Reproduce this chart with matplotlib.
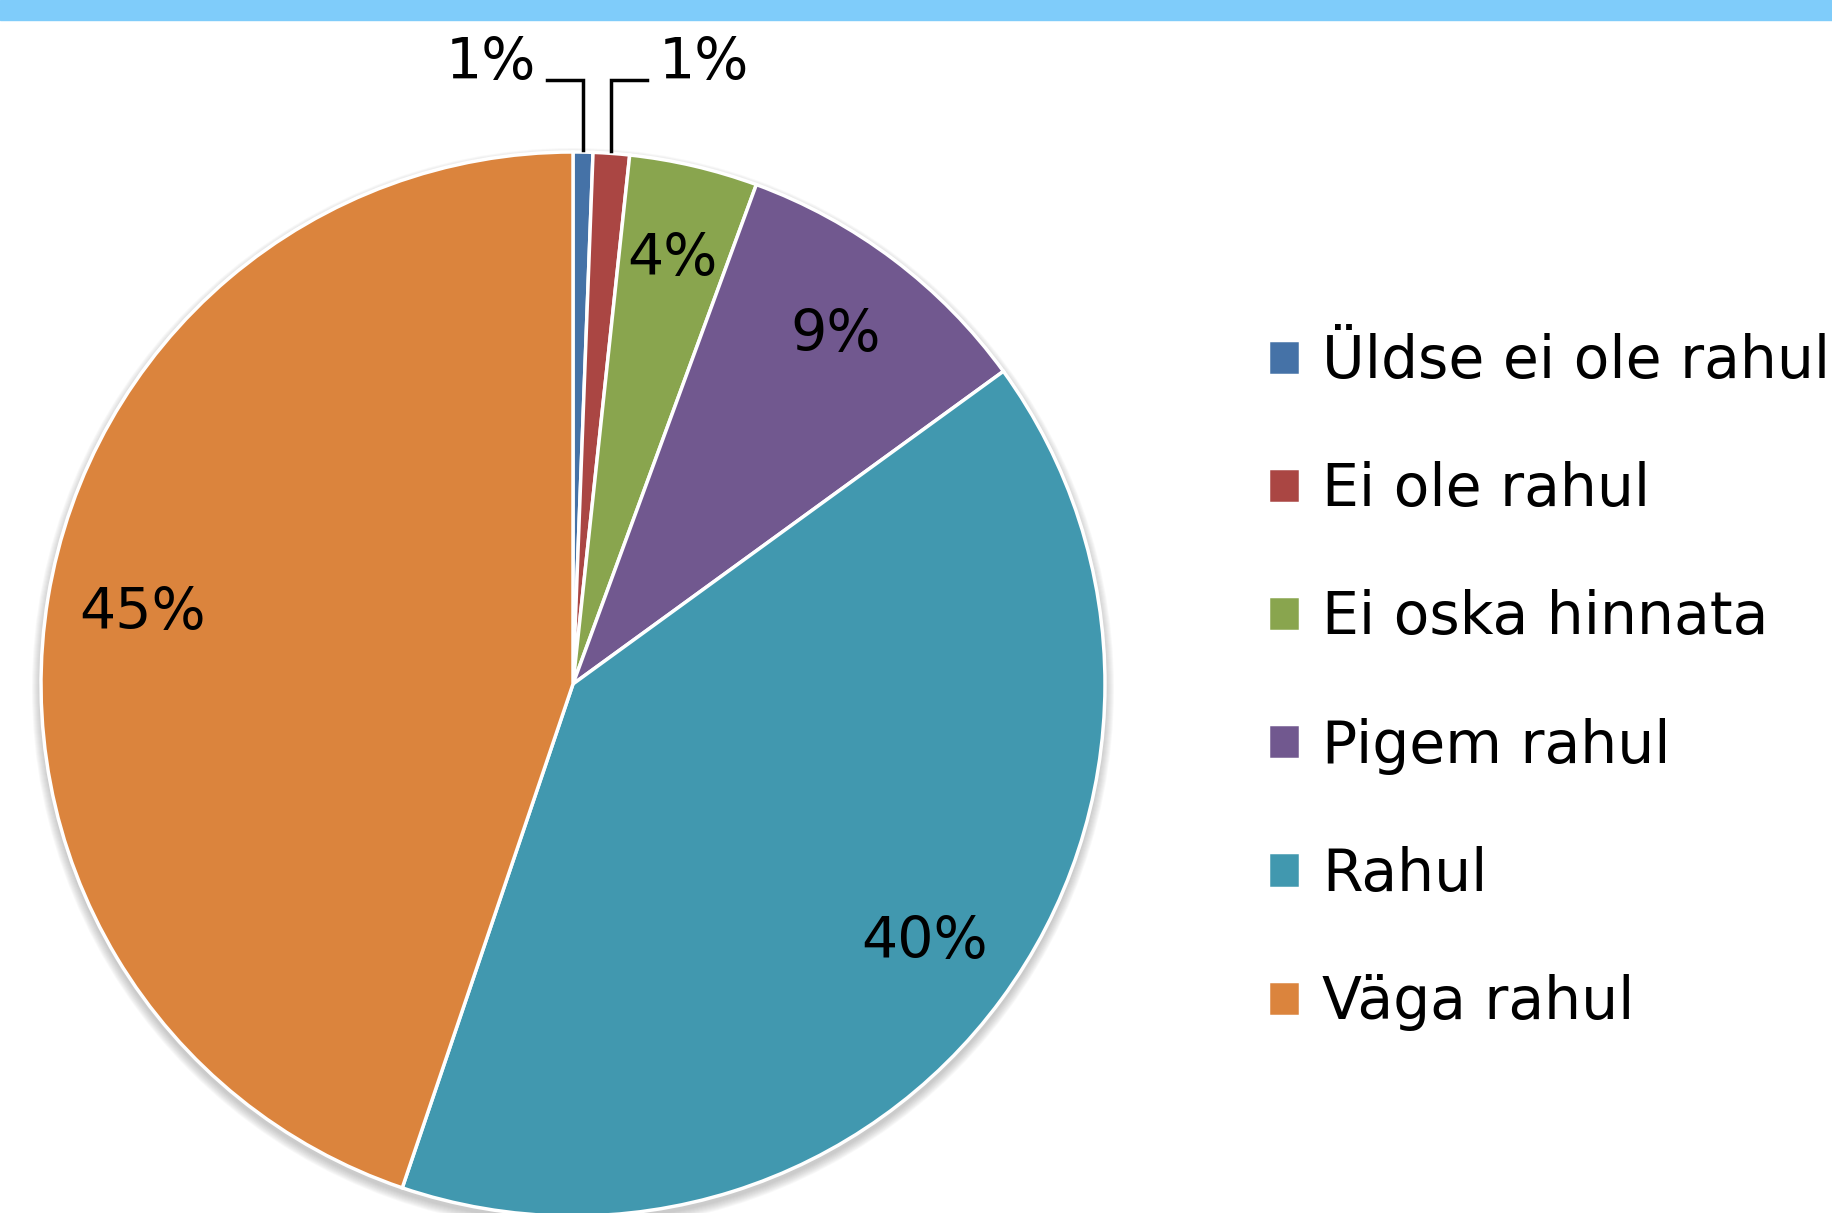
import matplotlib.pyplot as plt
from matplotlib import patches
import numpy as np

# Survey answers (share of respondents, %)
labels = ["Üldse ei ole rahul", "Ei ole rahul", "Ei oska hinnata",
          "Pigem rahul", "Rahul", "Väga rahul"]
values = [0.6, 1.1, 3.9, 9.4, 40.2, 44.8]
colors = ["#4572A7", "#AA4643", "#89A54E", "#71588F", "#4198AF", "#DB843D"]

# Layout in pixel units (figure is 1833 x 1213 px)
W, H = 1833, 1213
cx, cy = 573, H - 684
radius = 532
fs = 41        # percentage labels
fs_leg = 42    # legend

fig = plt.figure(figsize=(W / 100, H / 100), dpi=100)
ax = fig.add_axes([0, 0, 1, 1])

# soft shadow under the pie
for k in range(1, 10):
    ax.add_patch(patches.Circle((cx, cy - 5), radius + k, color="gray",
                                alpha=0.05, zorder=0, lw=0))


def pct_label(p):
    return "" if p < 2 else "%d%%" % round(p)


wedges, texts, autotexts = ax.pie(
    values, colors=colors, startangle=90, counterclock=False,
    center=(cx, cy), radius=radius, autopct=pct_label, pctdistance=0.82,
    wedgeprops=dict(edgecolor="white", linewidth=2.5),
    textprops=dict(fontsize=fs, color="black"))
for w in wedges:
    w.set_zorder(2)
for t in autotexts:
    t.set_zorder(3)

# small slices: labels above the pie with elbow leader lines
line_y = H - 80
for i, side in [(0, -1), (1, 1)]:
    w = wedges[i]
    ang = np.deg2rad((w.theta1 + w.theta2) / 2)
    x0 = cx + radius * np.cos(ang)
    y0 = cy + radius * np.sin(ang)
    x1 = x0 + side * 36
    ax.plot([x0, x0, x1], [y0 + 2, line_y, line_y], color="black", lw=2.5,
            zorder=3, solid_joinstyle="miter")
    ax.text(x1 + side * 11, H - 63, "%d%%" % round(values[i]),
            ha="right" if side < 0 else "left", va="center", fontsize=fs)

# blue band along the top edge
ax.add_patch(patches.Rectangle((0, H - 20), W, 20, color="#7FCCFA", zorder=4))

leg = ax.legend(wedges, labels, loc="upper left", bbox_to_anchor=(1268 / W, 1 - 333 / H),
                frameon=False, fontsize=fs_leg, handlelength=0.55, handleheight=0.55,
                handletextpad=0.38, labelspacing=1.22, borderpad=0, borderaxespad=0)

ax.set_xlim(0, W)
ax.set_ylim(0, H)
ax.set_aspect("equal")
ax.axis("off")

fig.savefig("out.png", dpi=100)
